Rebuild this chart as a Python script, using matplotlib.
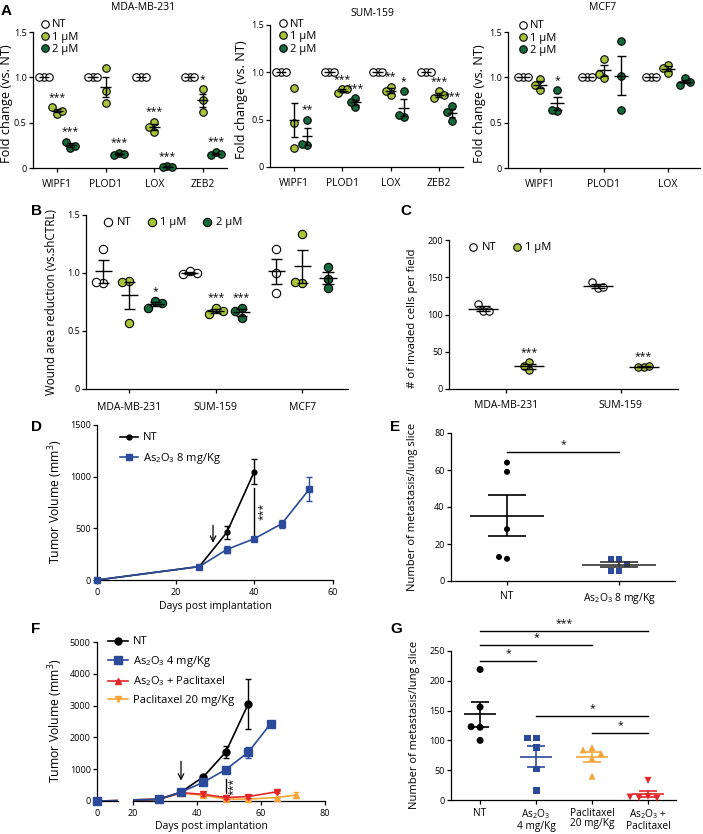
import numpy as np
import matplotlib
matplotlib.use("Agg")
import matplotlib.pyplot as plt
from matplotlib.lines import Line2D

plt.rcParams["font.family"] = ["Open Sans", "DejaVu Sans"]
plt.rcParams["mathtext.fontset"] = "custom"
plt.rcParams["mathtext.rm"] = "Open Sans"
plt.rcParams["mathtext.it"] = "Open Sans:italic"
plt.rcParams["mathtext.bf"] = "Open Sans:bold"
plt.rcParams["axes.linewidth"] = 0.9

# ---------------- data ----------------
doses = ["NT", "1 µM", "2 µM"]
genes = ["WIPF1", "PLOD1", "LOX", "ZEB2"]
genes_mcf7 = ["WIPF1", "PLOD1", "LOX"]

mda_nt = [[1.0, 1.0, 1.0], [1.0, 1.0, 1.0], [1.0, 1.0, 1.0], [1.0, 1.0, 1.0]]
mda_1um = [[0.60, 0.67, 0.63], [1.10, 0.85, 0.72], [0.51, 0.45, 0.40], [0.87, 0.75, 0.62]]
mda_2um = [[0.22, 0.29, 0.24], [0.17, 0.14, 0.15], [0.02, 0.01, 0.01], [0.18, 0.14, 0.15]]
mda_stars = [["***", "***"], ["", "***"], ["***", "***"], ["*", "***"]]

sum_nt = [[1.0, 1.0, 1.0], [1.0, 1.0, 1.0], [1.0, 1.0, 1.0], [1.0, 1.0, 1.0]]
sum_1um = [[0.83, 0.46, 0.20], [0.82, 0.78, 0.82], [0.85, 0.76, 0.80], [0.80, 0.73, 0.76]]
sum_2um = [[0.50, 0.23, 0.24], [0.73, 0.63, 0.69], [0.80, 0.53, 0.55], [0.64, 0.49, 0.58]]
sum_stars = [["", "**"], ["***", "***"], ["**", "*"], ["***", "***"]]

mcf7_nt = [[1.0, 1.0, 1.0], [1.0, 1.0, 1.0], [1.0, 1.0, 1.0]]
mcf7_1um = [[0.98, 0.92, 0.86], [1.20, 0.99, 1.04], [1.14, 1.05, 1.10]]
mcf7_2um = [[0.86, 0.63, 0.645], [1.40, 1.01, 0.645], [0.99, 0.92, 0.95]]
mcf7_stars = [["", "*"], ["", ""], ["", ""]]

cells_b = ["MDA-MB-231", "SUM-159", "MCF7"]
b_nt = [[1.21, 0.91, 0.92], [1.02, 0.99, 1.00], [1.21, 1.00, 0.83]]
b_1um = [[0.93, 0.92, 0.57], [0.70, 0.65, 0.67], [1.34, 0.91, 0.92]]
b_2um = [[0.76, 0.70, 0.74], [0.70, 0.61, 0.67], [1.05, 0.87, 0.95]]
b_stars = [["", "*"], ["***", "***"], ["", ""]]

cells_c = ["MDA-MB-231", "SUM-159"]
c_nt = [[105, 114, 105], [135, 144, 137]]
c_1um = [[25, 36, 31], [30, 29, 30.5]]
c_stars = ["***", "***"]

d_days_nt = [0, 26, 33, 40]
d_nt = [0, 130, 460, 1050]
d_nt_err = [0, 10, 60, 125]
d_days_as = [0, 26, 33, 40, 47, 54]
d_as = [0, 130, 295, 400, 545, 880]
d_as_err = [0, 10, 38, 12, 38, 116]

e_groups = ["NT", "As$_2$O$_3$ 8 mg/Kg"]
e_nt = [64, 59, 28, 12, 13]
e_as = [12, 12, 9, 5.5, 5.5]

f_days_nt = [0, 28, 35, 42, 49, 56]
f_nt = [0, 50, 280, 760, 1540, 3050]
f_nt_err = [0, 10, 30, 60, 200, 780]
f_days_as = [0, 28, 35, 42, 49, 56, 63]
f_as = [0, 50, 280, 590, 990, 1530, 2430]
f_as_err = [0, 10, 30, 60, 90, 180, 70]
f_days_combo = [0, 28, 35, 42, 49, 56, 65]
f_combo = [0, 50, 260, 210, 110, 140, 290]
f_combo_err = [0, 10, 40, 50, 40, 40, 40]
f_days_pac = [0, 28, 35, 42, 49, 56, 65, 71]
f_pac = [0, 50, 250, 180, 60, 60, 110, 190]
f_pac_err = [0, 10, 40, 40, 20, 20, 30, 100]
f_labels = ["NT", "As$_2$O$_3$ 4 mg/Kg", "As$_2$O$_3$ + Paclitaxel", "Paclitaxel 20 mg/Kg"]

g_groups = ["NT", "As$_2$O$_3$\n4 mg/Kg", "Paclitaxel\n20 mg/Kg", "As$_2$O$_3$ +\nPaclitaxel"]
g_nt = [219, 156, 122, 123, 100]
g_as = [104, 104, 88, 52, 16]
g_pac = [88, 84, 78, 70, 40]
g_combo = [33, 6, 4, 3, 5]
g_sig = [(0, 3, 284, "***"), (0, 2, 260, "*"), (0, 1, 234, "*"), (1, 3, 141, "*"), (2, 3, 113, "*")]

# ---------------- style ----------------
GREEN1 = "#a9c43a"
GREEN2 = "#16693a"
BLUE = "#2c4a9a"
RED = "#e3262a"
ORANGE = "#f4a63a"
dose_cols = ["white", GREEN1, GREEN2]

W, H = 703, 834
fig = plt.figure(figsize=(W / 100, H / 100), dpi=100)


def box(l, t, r, b):
    return [l / W, 1 - b / H, (r - l) / W, (b - t) / H]


def fx(x):
    return x / W


def fy(y):
    return 1 - y / H


def style(ax):
    for s in ["top", "right"]:
        ax.spines[s].set_visible(False)
    ax.tick_params(labelsize=6.5, length=3, width=0.9, pad=1.5)


def swarm(ax, xc, vals, dia, step):
    pts = ax.transData.transform(np.column_stack([np.full(len(vals), float(xc)), vals]))
    unit = ax.transData.transform([[1, 0]])[0, 0] - ax.transData.transform([[0, 0]])[0, 0]
    placed, offs = [], []
    for y in pts[:, 1]:
        for k in [0, -1, 1, -2, 2, -3, 3]:
            if all(not (kk == k and abs(y - yy) < dia) for kk, yy in placed):
                break
        placed.append((k, y))
        offs.append(k * step / unit)
    return xc + np.array(offs)


def dots(ax, xc, vals, color, marker="o", size=5.4, step=4.8, edge="black"):
    xs = swarm(ax, xc, vals, size * 100 / 72, step)
    ax.scatter(xs, vals, s=size ** 2, marker=marker, c=color, edgecolors=edge,
               linewidths=0.8, zorder=3, clip_on=False)


def mean_sem(ax, xc, vals, hw, cw, color="black", lw=1.0):
    m = np.mean(vals)
    e = np.std(vals, ddof=1) / np.sqrt(len(vals))
    kw = dict(color=color, lw=lw, zorder=4, solid_capstyle="butt", clip_on=False)
    ax.plot([xc - hw, xc + hw], [m, m], **kw)
    if e > 0:
        ax.plot([xc, xc], [m - e, m + e], **kw)
        ax.plot([xc - cw, xc + cw], [m + e, m + e], **kw)
        ax.plot([xc - cw, xc + cw], [m - e, m - e], **kw)


def star(ax, x, y, s, dy=7, fs=7.5, rot=0):
    if s:
        ax.annotate(s, (x, y), xytext=(0, dy), textcoords="offset points", ha="center",
                    va="center", fontsize=fs, rotation=rot, annotation_clip=False)


def legend(handles, labels, x0, yc, fs=8, hl=0.8, **kw):
    em = fs * 100 / 72
    fig.legend(handles, labels, loc="upper left",
               bbox_to_anchor=(fx(x0), fy(yc - em / 2)), bbox_transform=fig.transFigure,
               frameon=False, borderpad=0, borderaxespad=0, handlelength=hl,
               fontsize=fs, **kw)


def ylab(x, y, s, fs=8):
    fig.text(fx(x), fy(y), s, rotation=90, ha="center", va="center", fontsize=fs)


def letter(x, y, s):
    fig.text(fx(x), fy(y), s, ha="left", va="top", fontsize=11, fontweight="bold",
             family="Liberation Sans")


def dose_handles(size):
    return [Line2D([], [], ls="none", marker="o", ms=size, mfc=c, mec="black", mew=0.8)
            for c in dose_cols]


# ---------------- panel A ----------------
def panel_a(rect, cats, nt, d1, d2, stars, title, tx, ty, mx, my, ylx):
    ax = fig.add_axes(box(*rect))
    style(ax)
    n = len(cats)
    ax.set_xlim(-0.5, n - 0.5)
    ax.set_ylim(0, 1.5)
    ax.set_yticks([0, 0.5, 1.0, 1.5], ["0", "0.5", "1.0", "1.5"])
    ax.set_xticks(range(n), cats)
    ax.tick_params(axis="x", labelsize=7.5, pad=5)
    groups = [nt, d1, d2]
    for i in range(n):
        for j in range(3):
            x = i + (j - 1) * 0.27
            dots(ax, x, groups[j][i], dose_cols[j])
            mean_sem(ax, x, groups[j][i], 0.11, 0.07)
        for j in range(2):
            star(ax, i + j * 0.27, max(groups[j + 1][i]), stars[i][j])
    fig.text(fx(tx), fy(ty), title, ha="center", va="center", fontsize=7.5)
    ylab(ylx, (rect[1] + rect[3]) / 2 + 4, "Fold change (vs. NT)", fs=9.2)
    em = 8 * 100 / 72
    legend(dose_handles(5.4), doses, mx - 0.4 * em, my, hl=0.8,
           handletextpad=0.25, labelspacing=0.13)


panel_a((33, 32, 227, 168), genes, mda_nt, mda_1um, mda_2um, mda_stars,
        "MDA-MB-231", 143, 8, 45, 25, 7)
panel_a((270, 25, 463, 167), genes, sum_nt, sum_1um, sum_2um, sum_stars,
        "SUM-159", 372, 13, 283, 24.5, 242)
panel_a((508, 32, 700, 168), genes_mcf7, mcf7_nt, mcf7_1um, mcf7_2um, mcf7_stars,
        "MCF7", 603, 8, 523, 26, 480)

# ---------------- panel B ----------------
ax = fig.add_axes(box(86, 215, 348, 389))
style(ax)
ax.set_xlim(-0.5, 2.53)
ax.set_ylim(0, 1.5)
ax.set_yticks([0, 0.5, 1.0, 1.5], ["0", "0.5", "1.0", "1.5"])
ax.set_xticks(range(3), cells_b)
ax.tick_params(axis="x", labelsize=7.5, pad=6)
for i in range(3):
    for j, grp in enumerate([b_nt, b_1um, b_2um]):
        x = i + (j - 1) * 0.3
        dots(ax, x, grp[i], dose_cols[j], size=6, step=7)
        mean_sem(ax, x, grp[i], 0.1, 0.065)
    star(ax, i, max(b_1um[i]), b_stars[i][0])
    star(ax, i + 0.3, max(b_2um[i]), b_stars[i][1])
legend(dose_handles(6), doses, 108 - 4.4, 223, hl=0.8, ncol=3,
       handletextpad=0.4, columnspacing=1.4)
ylab(52, 302, "Wound area reduction (vs.shCTRL)", fs=8.4)

# ---------------- panel C ----------------
ax = fig.add_axes(box(449, 240, 678, 389))
style(ax)
ax.set_xlim(-0.5, 1.5)
ax.set_ylim(0, 200)
ax.set_yticks([0, 50, 100, 150, 200])
ax.set_xticks(range(2), cells_c)
ax.tick_params(axis="x", labelsize=7.5, pad=5)
for i in range(2):
    for j, grp in enumerate([c_nt, c_1um]):
        x = i + (j - 0.5) * 0.4
        dots(ax, x, grp[i], dose_cols[j], size=5.3, step=5.5)
        mean_sem(ax, x, grp[i], 0.13, 0.06)
    star(ax, i + 0.2, max(c_1um[i]), c_stars[i])
legend(dose_handles(5.4)[:2], doses[:2], 473 - 4.4, 248, hl=0.8, ncol=2,
       handletextpad=0.35, columnspacing=1.5)
ylab(413, 318, "# of invaded cells per field", fs=8.2)

# ---------------- panel D ----------------
ax = fig.add_axes(box(97, 425, 333, 580))
style(ax)
ax.set_xlim(0, 60)
ax.set_ylim(0, 1500)
ax.set_xticks([0, 20, 40, 60])
ax.set_yticks([0, 500, 1000, 1500])
ax.tick_params(axis="x", pad=3)
for days, vals, err, col, mk, ms in [(d_days_nt, d_nt, d_nt_err, "black", "o", 3.5),
                                     (d_days_as, d_as, d_as_err, BLUE, "s", 5)]:
    ax.plot(days, vals, color=col, lw=1.2, marker=mk, ms=ms, clip_on=False, zorder=3)
    e = np.array(err)
    k = e > 0
    ax.errorbar(np.array(days)[k], np.array(vals)[k], yerr=e[k], fmt="none", ecolor=col,
                elinewidth=1, capsize=2.5, capthick=1, zorder=3)
ax.annotate("", xy=(29.5, 360), xytext=(29.5, 530),
            arrowprops=dict(arrowstyle="->", lw=0.9, color="black", shrinkA=0, shrinkB=0))
ax.plot([40, 40], [440, 890], color="black", lw=1)
star(ax, 42.3, 660, "***", dy=0, rot=90)
legend([Line2D([], [], color="black", lw=1.2, marker="o", ms=3.5),
        Line2D([], [], color=BLUE, lw=1.2, marker="s", ms=5)],
       ["NT", "As$_2$O$_3$ 8 mg/Kg"], 120, 438, hl=1.6, handletextpad=0.45, labelspacing=0.65)
ylab(56, 502, "Tumor Volume (mm$^3$)", fs=8.8)
fig.text(fx(215), fy(607), "Days post implantation", ha="center", va="center", fontsize=7.5)

# ---------------- panel E ----------------
ax = fig.add_axes(box(451, 433, 675, 581))
style(ax)
ax.set_xlim(-0.5, 1.5)
ax.set_ylim(0, 80)
ax.set_yticks([0, 20, 40, 60, 80])
ax.set_xticks(range(2), e_groups)
ax.tick_params(axis="x", labelsize=7.5, pad=4)
dots(ax, 0, e_nt, "black", size=4.3, step=8, edge="none")
dots(ax, 1, e_as, BLUE, marker="s", size=4.3, step=8, edge="none")
mean_sem(ax, 0, e_nt, 0.33, 0.17, lw=1.2)
mean_sem(ax, 1, e_as, 0.33, 0.17, color="#333333", lw=1.2)
ax.plot([0, 1], [70, 70], color="black", lw=1)
star(ax, 0.5, 70, "*", dy=5)
ylab(412, 507, "Number of metastasis/lung slice")

# ---------------- panel F ----------------
fl = fig.add_axes(box(97, 642, 118, 801))
fr = fig.add_axes(box(133, 642, 325, 801))
for a in (fl, fr):
    style(a)
    a.set_ylim(0, 5000)
    a.tick_params(axis="x", pad=3)
    a.patch.set_visible(False)
fl.set_xlim(0, 6.5)
fl.set_xticks([0])
fl.set_yticks([0, 1000, 2000, 3000, 4000, 5000])
fr.set_xlim(20, 80)
fr.set_xticks([20, 40, 60, 80])
fr.spines["left"].set_visible(False)
fr.set_yticks([])
series_f = [(f_days_pac, f_pac, f_pac_err, ORANGE, "^", 5),
            (f_days_combo, f_combo, f_combo_err, RED, "v", 5),
            (f_days_nt, f_nt, f_nt_err, "black", "o", 5),
            (f_days_as, f_as, f_as_err, BLUE, "s", 5.5)]
for days, vals, err, col, mk, ms in series_f:
    days, vals, err = np.array(days), np.array(vals), np.array(err)
    for a in (fl, fr):
        lo, hi = a.get_xlim()
        a.plot(days, vals, color=col, lw=1.2, zorder=2)
        k = (days >= lo) & (days <= hi)
        a.plot(days[k], vals[k], ls="none", marker=mk, ms=ms, color=col,
               clip_on=False, zorder=3)
    k = err > 0
    fr.errorbar(days[k], vals[k], yerr=err[k], fmt="none", ecolor=col, elinewidth=1,
                capsize=2.5, capthick=1, zorder=3)
fr.annotate("", xy=(35, 640), xytext=(35, 1250),
            arrowprops=dict(arrowstyle="->", lw=0.9, color="black", shrinkA=0, shrinkB=0))
fr.plot([49, 49], [250, 690], color="black", lw=1)
star(fr, 51.3, 470, "***", dy=0, rot=90)
legend([Line2D([], [], color="black", lw=1.2, marker="o", ms=5),
        Line2D([], [], color=BLUE, lw=1.2, marker="s", ms=5.5),
        Line2D([], [], color=RED, lw=1.2, marker="^", ms=5),
        Line2D([], [], color=ORANGE, lw=1.2, marker="v", ms=5)],
       f_labels, 108, 642, hl=1.8, handletextpad=0.45, labelspacing=0.55)
ylab(56, 721, "Tumor Volume (mm$^3$)", fs=8.8)
fig.text(fx(211), fy(826), "Days post implantation", ha="center", va="center", fontsize=7.5)

# ---------------- panel G ----------------
ax = fig.add_axes(box(451, 651, 676, 800))
style(ax)
ax.set_xlim(-0.52, 3.5)
ax.set_ylim(0, 250)
ax.set_yticks([0, 50, 100, 150, 200, 250])
ax.set_xticks(range(4), g_groups)
ax.tick_params(axis="x", labelsize=7.3, pad=2.5)
for t in ax.get_xticklabels():
    t.set_linespacing(0.95)
for i, (vals, col, mk) in enumerate([(g_nt, "black", "o"), (g_as, BLUE, "s"),
                                     (g_pac, ORANGE, "^"), (g_combo, RED, "v")]):
    dots(ax, i, vals, col, marker=mk, size=5, step=9, edge="none")
    mean_sem(ax, i, vals, 0.28, 0.16, color=col, lw=1.2)
for x0, x1, y, s in g_sig:
    ax.plot([x0, x1], [y, y], color="black", lw=1, clip_on=False)
    star(ax, (x0 + x1) / 2, y, s, dy=5)
ylab(415, 725, "Number of metastasis/lung slice")

# ---------------- panel letters ----------------
for x, y, s in [(1, 4, "A"), (31, 204, "B"), (400, 204, "C"), (31, 420, "D"),
                (390, 420, "E"), (31, 622, "F"), (390, 622, "G")]:
    letter(x, y, s)

fig.savefig("out.png", dpi=100)
